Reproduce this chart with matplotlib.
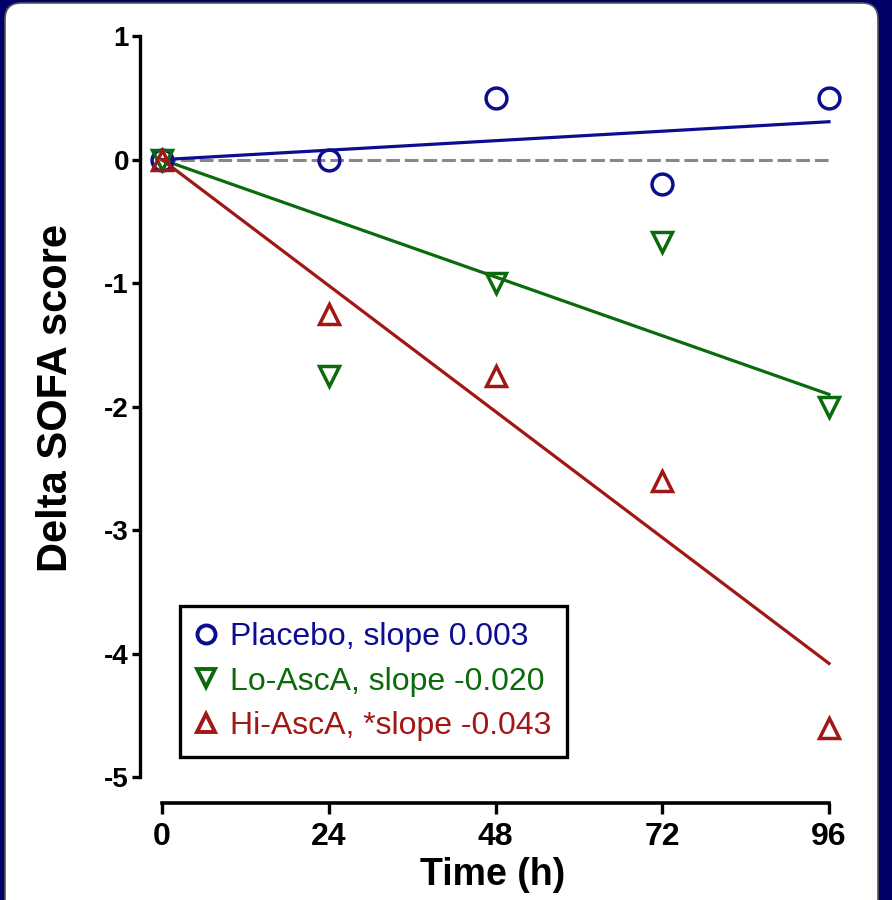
import matplotlib
matplotlib.use("Agg")
import matplotlib.pyplot as plt
from matplotlib import font_manager
from matplotlib.lines import Line2D
from matplotlib.patches import FancyBboxPatch

# data
hours = [0, 24, 48, 72, 96]
placebo = [0, 0, 0.5, -0.2, 0.5]
lo_asca = [0, -1.75, -1.0, -0.67, -2.0]
hi_asca = [0, -1.25, -1.75, -2.6, -4.6]
fit_slopes = [0.0032, -0.0198, -0.0425]
labels = ["Placebo, slope 0.003", "Lo-AscA, slope -0.020", "Hi-AscA, *slope -0.043"]
colors = ["#0d0d8f", "#0b6a0b", "#a31616"]
markers = ["o", "v", "^"]
x_ticks = [0, 24, 48, 72, 96]
y_ticks = [-5, -4, -3, -2, -1, 0, 1]

# narrow bold font for ticks if we have it
names = {f.name for f in font_manager.fontManager.ttflist}
narrow = "Liberation Sans Narrow" if "Liberation Sans Narrow" in names else "Liberation Sans"
plt.rcParams["font.family"] = ["Liberation Sans", "DejaVu Sans"]

W, H = 892, 900
fig = plt.figure(figsize=(W / 100, H / 100), dpi=100)
fig.patch.set_facecolor("#000066")

# white rounded panel
panel = FancyBboxPatch((5 / W, -0.05), 873 / W, 1.05 - 3 / H,
                       boxstyle="round,pad=0,rounding_size=0.018",
                       transform=fig.transFigure, facecolor="white",
                       edgecolor="#555555", linewidth=1.2, zorder=-10)
fig.patches.append(panel)

ax = fig.add_axes([140 / W, 1 - 803 / H, 705 / W, 773 / H])
ax.set_zorder(5)
ax.set_facecolor("none")
ax.set_xlim(-3.17, 98.3)
ax.set_ylim(-5.21, 1.05)

# zero reference line
ax.plot([0, 96], [0, 0], color="#888888", lw=2.2, ls=(0, (4.5, 1.6)), zorder=1)

series = [placebo, lo_asca, hi_asca]
for vals, slope, c in zip(series, fit_slopes, colors):
    ax.plot([0, 96], [0, slope * 96], color=c, lw=2.3, zorder=2)
for vals, c, m in zip(series, colors, markers):
    ax.plot(hours, vals, ls="none", marker=m, markersize=15, markerfacecolor="none",
            markeredgecolor=c, markeredgewidth=2.5, zorder=3, clip_on=False)

# spines
for s in ["top", "right"]:
    ax.spines[s].set_visible(False)
ax.spines["left"].set_bounds(-5, 1)
ax.spines["bottom"].set_bounds(0, 96)
ax.spines["left"].set_linewidth(2.4)
ax.spines["bottom"].set_linewidth(2.6)

ax.set_xticks(x_ticks)
ax.set_yticks(y_ticks)
ax.set_xticklabels([str(t) for t in x_ticks], fontfamily=narrow, fontweight="bold", fontsize=23)
ax.set_yticklabels([str(t) for t in y_ticks], fontfamily=narrow, fontweight="bold", fontsize=20)
ax.tick_params(axis="y", direction="out", length=6, width=2.4, pad=2)
ax.tick_params(axis="x", direction="out", length=8, width=2.4, pad=6)

ax.set_xlabel("Time (h)", fontfamily=narrow, fontweight="bold", fontsize=27, labelpad=3)
fig.text(56 / W, 1 - 398 / H, "Delta SOFA score", rotation=90, ha="center", va="center",
         fontweight="bold", fontsize=30)

# legend
handles = [Line2D([], [], ls="none", marker=m, markersize=13, markerfacecolor="none",
                  markeredgecolor=c, markeredgewidth=2.8)
           for c, m in zip(colors, markers)]
leg = ax.legend(handles, labels, loc="lower left",
                bbox_to_anchor=(180 / W, 1 - 757 / H), bbox_transform=fig.transFigure,
                borderaxespad=0, fontsize=23, handlelength=0.6, handletextpad=0.45,
                labelspacing=0.45, borderpad=0.5, fancybox=False, framealpha=1)
leg.get_frame().set_edgecolor("black")
leg.get_frame().set_linewidth(2.4)
for t, c in zip(leg.get_texts(), colors):
    t.set_color(c)

fig.savefig("out.png", dpi=100, facecolor=fig.get_facecolor())
